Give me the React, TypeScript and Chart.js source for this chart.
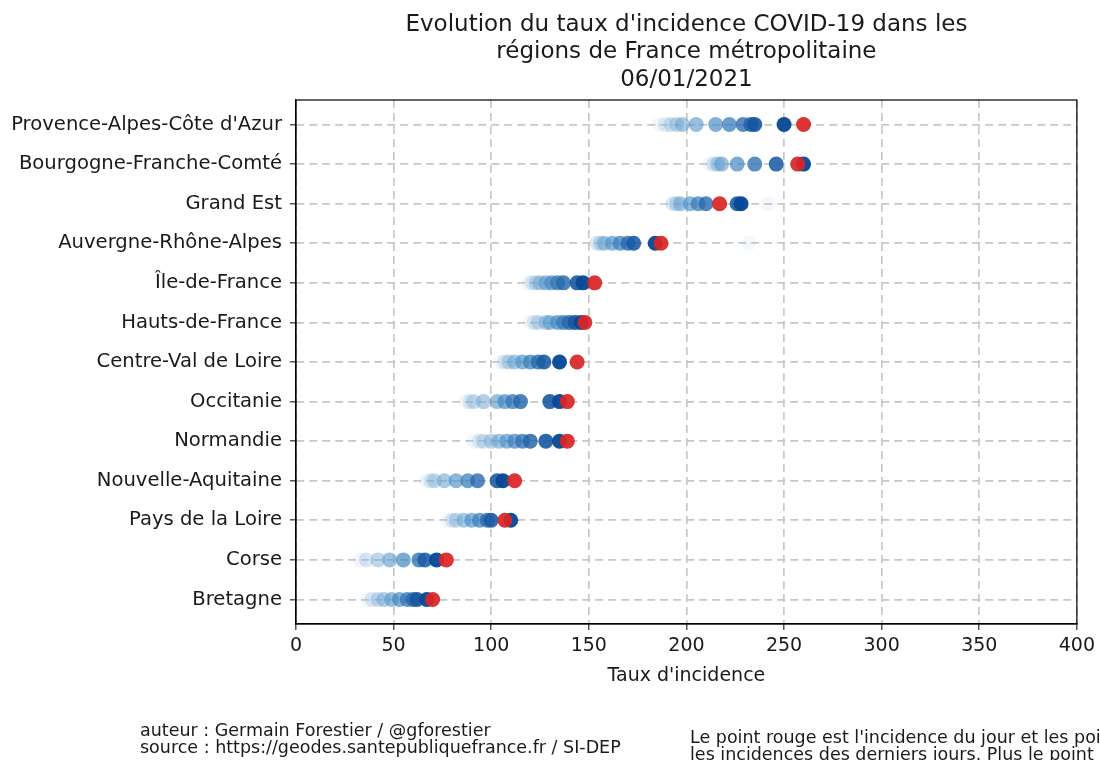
import React, { useEffect, useRef } from "react";
import { Chart, registerables } from "chart.js";

Chart.register(...registerables);

const regions = [
  "Provence-Alpes-Côte d'Azur",
  "Bourgogne-Franche-Comté",
  "Grand Est",
  "Auvergne-Rhône-Alpes",
  "Île-de-France",
  "Hauts-de-France",
  "Centre-Val de Loire",
  "Occitanie",
  "Normandie",
  "Nouvelle-Aquitaine",
  "Pays de la Loire",
  "Corse",
  "Bretagne",
];

// previous days, oldest first
const pastValues = [
  [186, 189, 192, 195, 198, 205, 215, 222, 229, 233, 235, 250],
  [212, 214, 216, 218, 226, 235, 246, 260],
  [242, 193, 195, 197, 202, 206, 210, 226, 228],
  [232, 154, 156, 158, 162, 166, 170, 173, 184],
  [119, 121, 123, 125, 128, 131, 134, 137, 144, 147],
  [120, 122, 124, 128, 130, 134, 137, 140, 143, 146],
  [105, 107, 109, 112, 116, 120, 124, 127, 135],
  [87, 89, 91, 96, 103, 107, 111, 115, 130, 135],
  [91, 94, 96, 100, 104, 108, 112, 116, 120, 128, 135],
  [67, 69, 71, 76, 82, 88, 93, 103, 106],
  [78, 80, 82, 86, 90, 94, 98, 100, 110],
  [33, 36, 42, 48, 55, 63, 66, 72],
  [37, 39, 42, 45, 49, 53, 57, 60, 62, 67],
];

const todayValues = [260, 257, 217, 187, 153, 148, 144, 139, 139, 112, 107, 77, 70];

const xTicks = [0, 50, 100, 150, 200, 250, 300, 350, 400];

const titleLines = [
  "Evolution du taux d'incidence COVID-19 dans les",
  "régions de France métropolitaine",
  "06/01/2021",
];
const xLabel = "Taux d'incidence";
const footerLeft = [
  "auteur : Germain Forestier / @gforestier",
  "source : https://geodes.santepubliquefrance.fr / SI-DEP",
];
const footerRight = [
  "Le point rouge est l'incidence du jour et les points bleus",
  "les incidences des derniers jours. Plus le point est foncé, plus il est récent.",
];

const FONT = '"DejaVu Sans", sans-serif';

function blueFor(t: number): string {
  const c0 = [165, 200, 228];
  const c1 = [70, 140, 198];
  const c2 = [8, 72, 150];
  let c: number[];
  if (t < 0.5) {
    const u = t / 0.5;
    c = c0.map((v, i) => v + (c1[i] - v) * u);
  } else {
    const u = (t - 0.5) / 0.5;
    c = c1.map((v, i) => v + (c2[i] - v) * u);
  }
  const a = 0.14 + 0.82 * Math.pow(t, 0.75);
  return `rgba(${Math.round(c[0])},${Math.round(c[1])},${Math.round(c[2])},${a.toFixed(3)})`;
}

const decor = {
  id: "decor",
  afterDraw(chart: any) {
    const { ctx, chartArea: a } = chart;
    ctx.save();
    ctx.strokeStyle = "#000";
    ctx.lineWidth = 1.2;
    ctx.setLineDash([]);
    ctx.strokeRect(a.left, a.top, a.right - a.left, a.bottom - a.top);
    const cx = (a.left + a.right) / 2;
    ctx.fillStyle = "#1a1a1a";
    ctx.textAlign = "center";
    ctx.textBaseline = "middle";
    ctx.font = `23px ${FONT}`;
    titleLines.forEach((t, i) => ctx.fillText(t, cx, 25 + i * 27.5));
    ctx.font = `19px ${FONT}`;
    ctx.fillText(xLabel, cx, 676);
    ctx.textAlign = "left";
    ctx.font = `17.5px ${FONT}`;
    footerLeft.forEach((t, i) => ctx.fillText(t, 140, 731 + i * 17.5));
    footerRight.forEach((t, i) => ctx.fillText(t, 690, 738 + i * 17.5));
    ctx.restore();
  },
};

export default function App() {
  const ref = useRef<HTMLCanvasElement | null>(null);

  useEffect(() => {
    if (!ref.current) return;
    const pastData: { x: number; y: number }[] = [];
    const pastColors: string[] = [];
    pastValues.forEach((vals, r) => {
      vals.forEach((v, i) => {
        pastData.push({ x: v, y: r });
        pastColors.push(blueFor(vals.length > 1 ? i / (vals.length - 1) : 1));
      });
    });
    const todayData = todayValues.map((v, r) => ({ x: v, y: r }));

    const gridOpts = {
      color: "rgba(200,200,200,1)",
      lineWidth: 1.7,
      drawTicks: true,
      tickLength: 6,
      tickColor: "#000",
      tickWidth: 1,
      tickBorderDash: [],
    };

    const chart = new Chart(ref.current, {
      type: "scatter",
      data: {
        datasets: [
          {
            label: "today",
            data: todayData,
            pointRadius: 7.5,
            pointHoverRadius: 7.5,
            pointBorderWidth: 0,
            pointBackgroundColor: "rgba(218,38,38,0.93)",
            borderWidth: 0,
          },
          {
            label: "past",
            data: pastData,
            pointRadius: 7.5,
            pointHoverRadius: 7.5,
            pointBorderWidth: 0,
            pointBackgroundColor: pastColors,
            borderWidth: 0,
          },
        ],
      },
      options: {
        animation: false,
        responsive: false,
        events: [],
        layout: { padding: { left: 0, top: 100, right: 20, bottom: 0 } },
        plugins: {
          legend: { display: false },
          title: { display: false },
          tooltip: { enabled: false },
        },
        scales: {
          x: {
            type: "linear",
            min: 0,
            max: 400,
            afterBuildTicks: (axis: any) => {
              axis.ticks = xTicks.map((v) => ({ value: v }));
            },
            afterFit: (scale: any) => {
              scale.height = 136;
            },
            grid: gridOpts,
            border: { display: true, color: "#000", width: 1.2, dash: [8, 5] },
            ticks: {
              color: "#1a1a1a",
              font: { family: FONT, size: 19 },
              padding: 5,
              maxRotation: 0,
            },
          },
          y: {
            type: "linear",
            min: -0.62,
            max: 12.62,
            reverse: true,
            afterBuildTicks: (axis: any) => {
              axis.ticks = regions.map((_, i) => ({ value: i }));
            },
            afterFit: (scale: any) => {
              scale.width = 296;
            },
            grid: gridOpts,
            border: { display: true, color: "#000", width: 1.2, dash: [8, 5] },
            ticks: {
              color: "#1a1a1a",
              font: { family: FONT, size: 19.6 },
              padding: 8,
              autoSkip: false,
              callback: (v: any) => {
                const i = Math.round(Number(v));
                return Math.abs(Number(v) - i) < 1e-6 && regions[i] ? regions[i] : "";
              },
            },
          },
        },
      },
      plugins: [decor],
    });
    return () => chart.destroy();
  }, []);

  return (
    <div style={{ position: "absolute", left: 0, top: 0, width: 1100, height: 760, background: "#fff" }}>
      <canvas ref={ref} width={1100} height={760} style={{ display: "block" }} />
    </div>
  );
}
